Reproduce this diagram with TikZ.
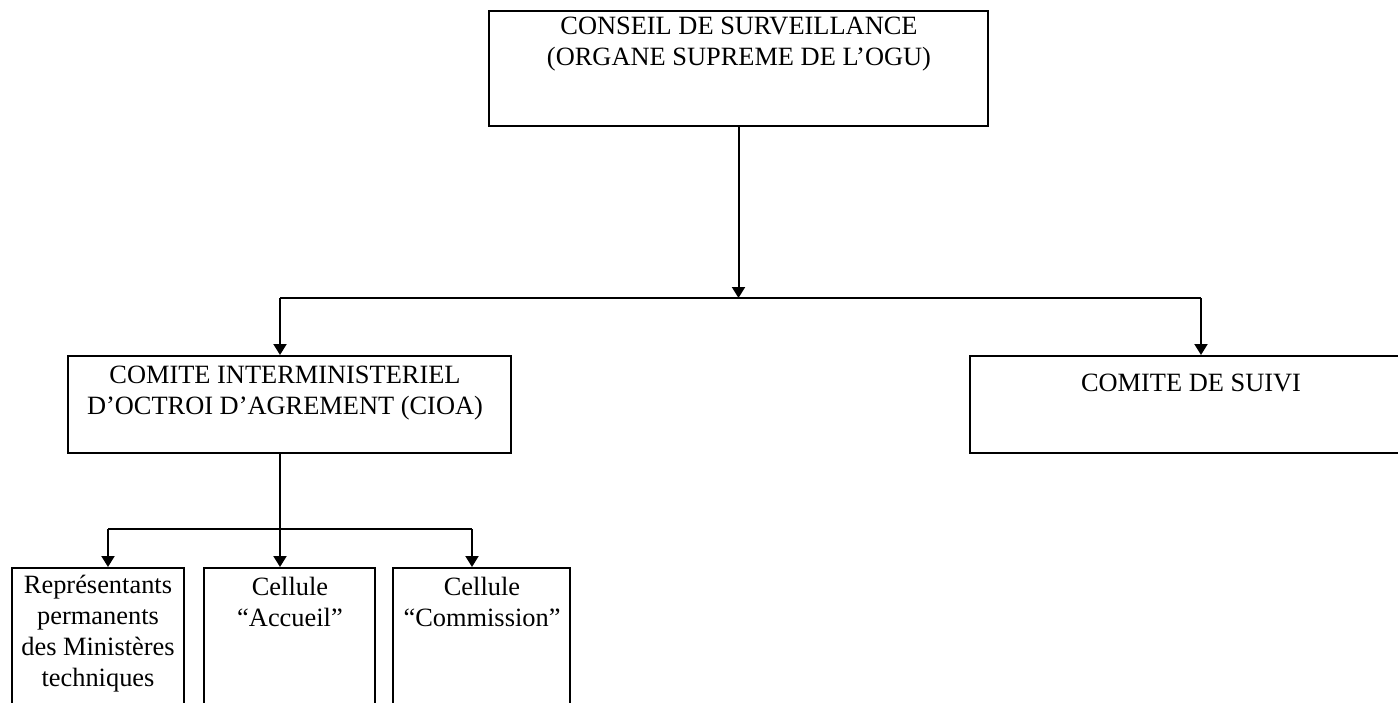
\documentclass[tikz,border=0pt]{standalone}
\usepackage{fontspec}
\setmainfont{Liberation Serif}
\usetikzlibrary{arrows.meta,fit}
\begin{document}
\begin{tikzpicture}[x=0.5pt,y=-0.5pt,
  box/.style={draw,line width=1pt,inner sep=0pt,rectangle},
  txt/.style={anchor=north,inner sep=0pt,align=center,font=\fontsize{13.2}{15.5}\selectfont},
  link/.style={line width=1pt},
  arr/.style={line width=1pt,-{Triangle[width=6.5pt,length=5.5pt]}}]
\useasboundingbox (0,0) rectangle (1398,702);
\clip (0,0) rectangle (1398,702);
% boxes
\node[box,fit={(489,11) (988,126)}] (cs) {};
\node[box,fit={(68,356) (511,453)}] (cioa) {};
\node[box,fit={(970,356) (1420,453)}] (suivi) {};
\node[box,fit={(12,568) (184,730)}] (rep) {};
\node[box,fit={(204,568) (375,730)}] (acc) {};
\node[box,fit={(393,568) (570,730)}] (com) {};
% texts
\node[txt] (cst) at (739,17) {CONSEIL DE SURVEILLANCE\\(ORGANE SUPREME DE L’OGU)};
\node[txt] (cioat) at (285,366) {COMITE INTERMINISTERIEL\\D’OCTROI D’AGREMENT (CIOA)};
\node[txt] (suivit) at (1191,374) {COMITE DE SUIVI};
\node[txt] (rept) at (98,575) {Représentants\\permanents\\des Ministères\\techniques};
\node[txt] (acct) at (290,577) {Cellule\\“Accueil”};
\node[txt] (comt) at (482,577) {Cellule\\“Commission”};
% connectors
\coordinate (j0) at (738.5,298);
\coordinate (jl) at (280,298);
\coordinate (jr) at (1201,298);
\draw[arr] (cs.south) -- (j0);
\draw[link] (jl) -- (jr);
\draw[arr] (jl) -- (jl |- cioa.north);
\draw[arr] (jr) -- (jr |- suivi.north);
\coordinate (k0) at (280,529);
\coordinate (k1) at (108,529);
\coordinate (k3) at (472,529);
\draw[link] (k0 |- cioa.south) -- (k0);
\draw[link] (k1) -- (k3);
\draw[arr] (k1) -- (k1 |- rep.north);
\draw[arr] (k0) -- (k0 |- acc.north);
\draw[arr] (k3) -- (k3 |- com.north);
\end{tikzpicture}
\end{document}
